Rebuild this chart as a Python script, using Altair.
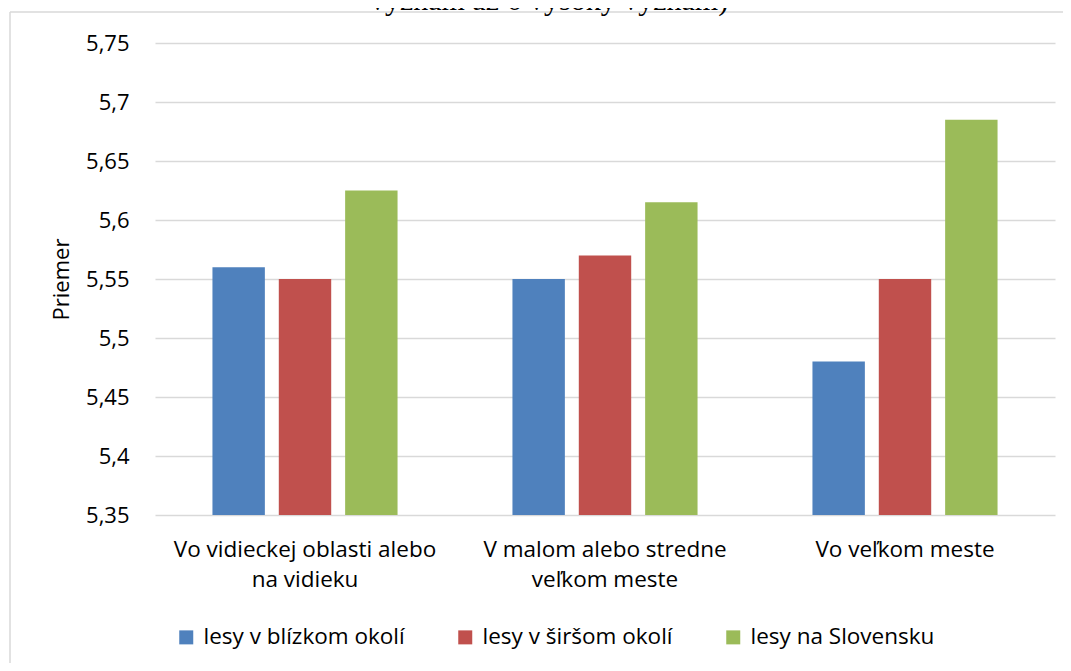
import json
import altair as alt
import pandas as pd

# ---- data ----
locations = [
    "Vo vidieckej oblasti alebo na vidieku",
    "V malom alebo stredne veľkom meste",
    "Vo veľkom meste",
]
location_lines = [
    ["Vo vidieckej oblasti alebo", "na vidieku"],
    ["V malom alebo stredne", "veľkom meste"],
    ["Vo veľkom meste"],
]
series = ["lesy v blízkom okolí", "lesy v širšom okolí", "lesy na Slovensku"]
blizke_okolie = [5.56, 5.55, 5.48]
sirsie_okolie = [5.55, 5.57, 5.55]
slovensko = [5.625, 5.615, 5.685]
colors = ["#4F81BD", "#C0504D", "#9BBB59"]
y_ticks = [5.35, 5.40, 5.45, 5.50, 5.55, 5.60, 5.65, 5.70, 5.75]
y_title = "Priemer"
title_line = "význam až 6 vysoký význam)"

rows = []
for name, vals in zip(series, [blizke_okolie, sirsie_okolie, slovensko]):
    for loc, v in zip(locations, vals):
        rows.append({"miesto": loc, "seria": name, "priemer": v})
df = pd.DataFrame(rows)

# multi-line x labels
expr = json.dumps(location_lines[-1], ensure_ascii=False)
for loc, lines in reversed(list(zip(locations[:-1], location_lines[:-1]))):
    expr = f"datum.value == {json.dumps(loc, ensure_ascii=False)} ? {json.dumps(lines, ensure_ascii=False)} : ({expr})"

FONT = "Open Sans"
GRID = "#d9d9d9"

bars = alt.Chart(df).mark_bar().encode(
    x=alt.X(
        "miesto:N",
        sort=locations,
        scale=alt.Scale(paddingInner=0.383, paddingOuter=0.1915),
        axis=alt.Axis(
            title=None, labelAngle=0, ticks=False, domain=False,
            labelExpr=expr, labelFontSize=22.5, labelLineHeight=30,
            labelPadding=23, labelFont=FONT, labelColor="#000000",
            labelLimit=400,
        ),
    ),
    xOffset=alt.XOffset("seria:N", sort=series,
                        scale=alt.Scale(paddingInner=0.21, paddingOuter=0)),
    y=alt.Y(
        "priemer:Q",
        scale=alt.Scale(domain=[y_ticks[0], y_ticks[-1]], zero=False, nice=False),
        axis=alt.Axis(
            title=y_title, values=y_ticks, ticks=False, domain=False,
            grid=True, gridColor=GRID, gridWidth=1.5,
            labelExpr="replace(format(datum.value, '.2~f'), '.', ',')",
            labelFontSize=22, labelFont=FONT, labelColor="#000000",
            labelPadding=26, titleFont=FONT, titleFontSize=22,
            titleFontWeight="normal", titleColor="#000000", titlePadding=12,
        ),
    ),
    y2=alt.datum(y_ticks[0]),
    color=alt.Color(
        "seria:N", sort=series,
        scale=alt.Scale(domain=series, range=colors),
        legend=alt.Legend(
            title=None, orient="none", legendX=20, legendY=583,
            direction="horizontal", symbolType="square", symbolSize=196,
            symbolStrokeWidth=0, labelFontSize=22.5, labelFont=FONT,
            labelColor="#000000", labelOffset=6, columnPadding=49,
            labelLimit=400,
        ),
    ),
)

frame_top = alt.Chart(pd.DataFrame({"k": [0]})).mark_rule(color=GRID, strokeWidth=1.5).encode(
    x=alt.value(-145), x2=alt.value(910), y=alt.value(-31)
)
frame_left = alt.Chart(pd.DataFrame({"k": [0]})).mark_rule(color=GRID, strokeWidth=1.5).encode(
    x=alt.value(-145), y=alt.value(-31), y2=alt.value(620)
)
title = alt.Chart(pd.DataFrame({"t": [title_line]})).mark_text(
    font="Liberation Serif", fontSize=30, baseline="alphabetic", align="center",
    color="#000000",
).encode(text="t:N", x=alt.value(394), y=alt.value(-33))

chart = alt.layer(frame_top, frame_left, bars, title).properties(
    width=900, height=472,
    autosize=alt.AutoSizeParams(type="none"),
    padding={"left": 147, "top": 35, "right": 8, "bottom": 148},
).configure_view(stroke=None)

chart.save("out.html", embed_options={"renderer": "svg", "actions": False})
